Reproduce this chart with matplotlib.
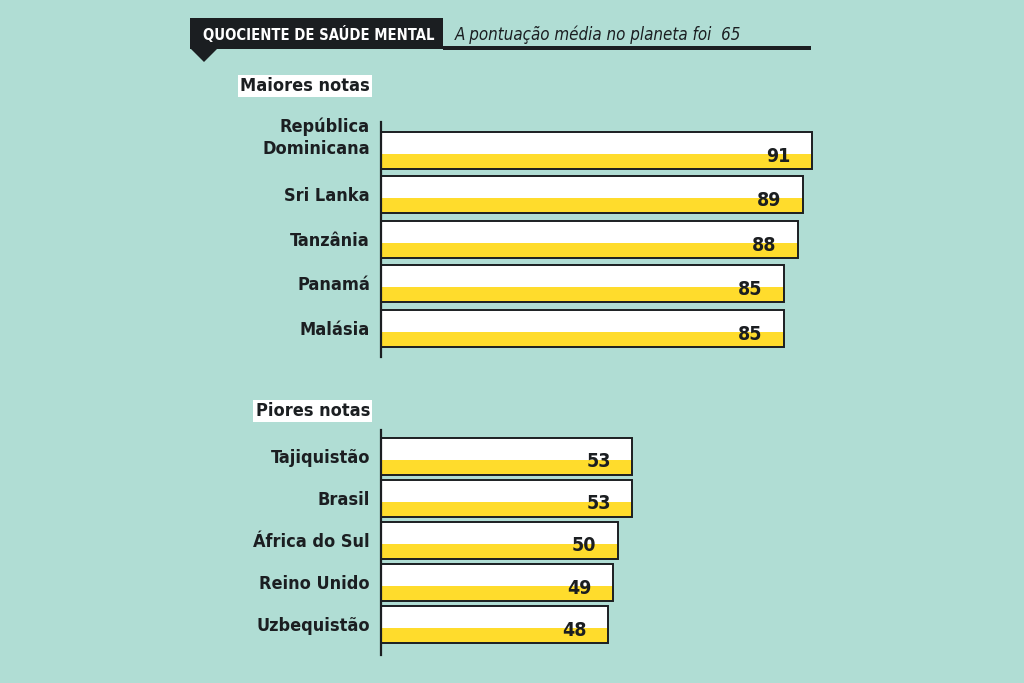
import matplotlib
matplotlib.use('Agg')
import matplotlib.pyplot as plt
from matplotlib.patches import Rectangle, Polygon

# ---- data
top_countries = ['República\nDominicana', 'Sri Lanka', 'Tanzânia', 'Panamá', 'Malásia']
top_scores = [91, 89, 88, 85, 85]
low_countries = ['Tajiquistão', 'Brasil', 'África do Sul', 'Reino Unido', 'Uzbequistão']
low_scores = [53, 53, 50, 49, 48]

title = 'QUOCIENTE DE SAÚDE MENTAL'
subtitle = 'A pontuação média no planeta foi  65'

# ---- style
BG = '#b0ddd4'
DARK = '#1b1e21'
YELLOW = '#ffdc2c'
plt.rcParams['font.family'] = ['DejaVu Sans']
plt.rcParams['font.stretch'] = 'condensed'

W, H = 1024, 683
fig = plt.figure(figsize=(W / 100, H / 100), dpi=100, facecolor=BG)

# full-figure helper axes in pixel units for the header decorations
deco = fig.add_axes([0, 0, 1, 1], zorder=0)
deco.set_xlim(0, W)
deco.set_ylim(H, 0)
deco.axis('off')
deco.add_patch(Rectangle((190, 18), 253, 31, color=DARK, lw=0))
deco.add_patch(Polygon([(190, 48), (218, 48), (204, 62)], color=DARK, lw=0))
deco.add_patch(Rectangle((443, 46), 368, 3.5, color=DARK, lw=0))
deco.text(203, 34, title, color='white', fontsize=10.6, fontweight='bold',
          ha='left', va='center')
deco.text(455, 35, subtitle, color=DARK, fontsize=12.2, style='italic',
          ha='left', va='center')


def panel(rect, names, values, ylim, header, header_y, bar_h):
    ax = fig.add_axes(rect, zorder=1)
    ax.set_facecolor('none')
    pos = list(range(len(values)))
    ax.barh(pos, values, height=bar_h, color='white', lw=0, left=0)
    ax.barh([p + bar_h * 0.3 for p in pos], values, height=bar_h * 0.4,
            color=YELLOW, lw=0)
    ax.barh(pos, values, height=bar_h, fill=False, edgecolor=DARK, lw=1.4)
    for p, name, v in zip(pos, names, values):
        n = name.count('\n')
        ax.text(-2.3, p + 0.03 - 0.31 * n, name, ha='right', va='center',
                fontsize=13, fontweight='bold', color=DARK,
                multialignment='right', linespacing=1.3)
        ax.text(v - 4.5, p + 0.13, str(v), ha='right', va='center',
                fontsize=14, fontweight='bold', color=DARK)
    ax.set_xlim(0, 100)
    ax.set_ylim(*ylim)
    for s in ['top', 'right', 'bottom']:
        ax.spines[s].set_visible(False)
    ax.spines['left'].set_linewidth(1.6)
    ax.spines['left'].set_color(DARK)
    ax.set_xticks([])
    ax.set_yticks([])
    fig.text(370 / W, 1 - header_y / H, header, ha='right', va='center',
             fontsize=13, fontweight='bold', color=DARK,
             bbox=dict(facecolor='white', edgecolor='none', pad=1.5))
    return ax


ax_w = 473.6 / W
panel([381 / W, 1 - 357 / H, ax_w, 235 / H], top_countries, top_scores,
      (4.645, -0.636), 'Maiores notas', 86, 0.83)
panel([381 / W, 1 - 655 / H, ax_w, 225 / H], low_countries, low_scores,
      (4.72, -0.625), 'Piores notas', 411, 0.867)

fig.savefig('out.png', dpi=100, facecolor=BG)
